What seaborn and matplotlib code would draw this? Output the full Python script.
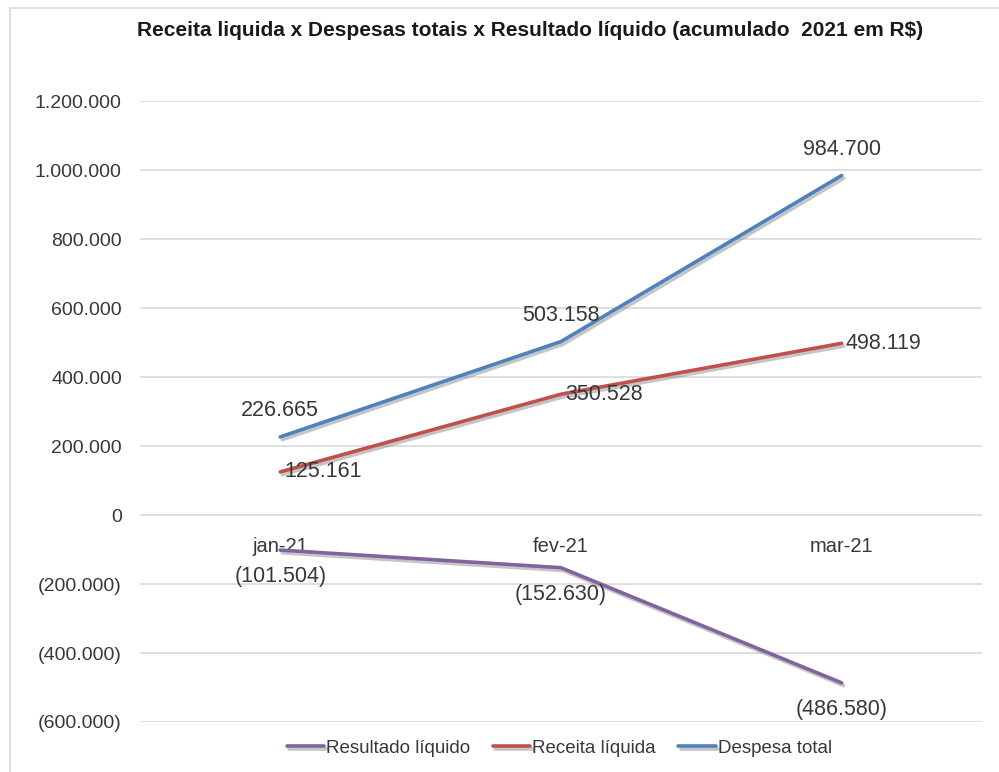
import matplotlib
matplotlib.use("Agg")
import matplotlib.pyplot as plt
import matplotlib.patheffects as pe
from matplotlib.patches import Rectangle
from matplotlib.ticker import FuncFormatter
import seaborn as sns
import pandas as pd

months = ["jan-21", "fev-21", "mar-21"]
resultado = [-101504, -152630, -486580]
receita = [125161, 350528, 498119]
despesa = [226665, 503158, 984700]
series_names = ["Resultado líquido", "Receita líquida", "Despesa total"]
title = "Receita liquida x Despesas totais x Resultado líquido (acumulado  2021 em R$)"

colors = {"Resultado líquido": "#8064A2", "Receita líquida": "#C0504D", "Despesa total": "#4F81BD"}

rows = []
for name, vals in zip(series_names, [resultado, receita, despesa]):
    for m, v in zip(months, vals):
        rows.append({"mes": m, "valor": v, "serie": name})
df = pd.DataFrame(rows)

sns.set_theme(style="white")
plt.rcParams["font.family"] = ["Liberation Sans", "DejaVu Sans"]

fig = plt.figure(figsize=(9.99, 7.72), dpi=100)
ax = fig.add_axes([0.140, 0.0648, 0.843, 0.804])

sns.lineplot(data=df, x="mes", y="valor", hue="serie", hue_order=series_names,
             palette=colors, sort=False, linewidth=2.6, ax=ax, legend=True)
for line in ax.get_lines():
    line.set_path_effects([pe.SimpleLineShadow(offset=(1.5, -2), shadow_color="gray", alpha=0.45),
                           pe.Normal()])
    line.set_solid_capstyle("round")

ax.set_ylim(-600000, 1200000)
ax.set_xlim(-0.5, 2.5)
ax.set_yticks(range(-600000, 1200001, 200000))

def fmt(v, pos=None):
    s = f"{abs(int(round(v))):,}".replace(",", ".")
    return f"({s})" if v < 0 else s

ax.yaxis.set_major_formatter(FuncFormatter(fmt))
ax.grid(axis="y", color="#D9D9D9", linewidth=1.2)
ax.grid(axis="x", visible=False)
for sp in ax.spines.values():
    sp.set_visible(False)
ax.spines["bottom"].set_position(("data", 0))
ax.tick_params(axis="x", length=0, pad=16, labelsize=14.5, labelcolor="#383838")
ax.tick_params(axis="y", length=0, pad=13, labelsize=14, labelcolor="#383838")
ax.set_xlabel("")
ax.set_ylabel("")

lab_kw = dict(fontsize=15.5, color="#383838", textcoords="offset points")
for i, v in enumerate(despesa):
    ax.annotate(fmt(v), (i, v), xytext=(0, 19), ha="center", va="center", **lab_kw)
for i, v in enumerate(receita):
    ax.annotate(fmt(v), (i, v), xytext=(3, 0), ha="left", va="center", **lab_kw)
for i, v in enumerate(resultado):
    ax.annotate(fmt(v), (i, v), xytext=(0, -19), ha="center", va="center", **lab_kw)

handles, labels = ax.get_legend_handles_labels()
ax.legend_.remove()
fig.legend(handles, labels, loc="center", bbox_to_anchor=(0.56, 0.031), ncol=3,
           frameon=False, fontsize=13.5, handlelength=2.0, columnspacing=1.2,
           handletextpad=0.1, labelcolor="#383838")

fig.text(0.531, 0.961, title, ha="center", va="center", fontsize=15, fontweight="bold",
         color="#1a1a1a")

fig.patches.append(Rectangle((0.010, -0.01), 1.0, 1.0, transform=fig.transFigure,
                             fill=False, edgecolor="#D9D9D9", linewidth=1.2))

fig.savefig("out.png", dpi=100)
